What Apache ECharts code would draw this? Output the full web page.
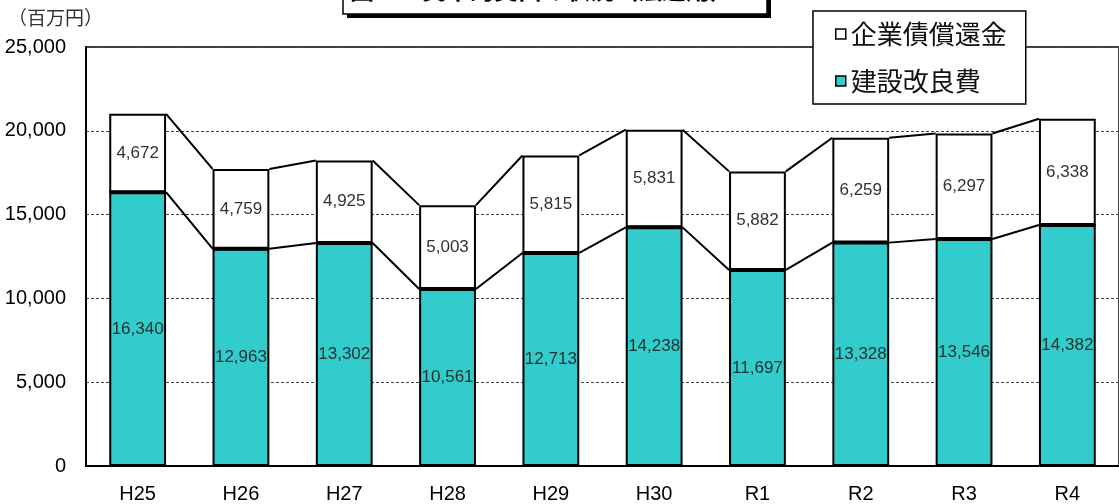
<!DOCTYPE html>
<html>
<head>
<meta charset="utf-8">
<script src="https://cdn.jsdelivr.net/npm/echarts@6/dist/echarts.min.js"></script>
<style>
  html, body { margin: 0; padding: 0; background: #fff; }
  #main { width: 1119px; height: 504px; }
</style>
</head>
<body>
<div id="main"></div>
<script>
// 年度
var years = ['H25', 'H26', 'H27', 'H28', 'H29', 'H30', 'R1', 'R2', 'R3', 'R4'];
// 建設改良費（百万円）
var kensetsu = [16340, 12963, 13302, 10561, 12713, 14238, 11697, 13328, 13546, 14382];
// 企業債償還金（百万円）
var shokan = [4672, 4759, 4925, 5003, 5815, 5831, 5882, 6259, 6297, 6338];

var fmt = function (v) {
  return String(v).replace(/\B(?=(\d{3})+(?!\d))/g, ',');
};

// 境界線・連結線用 [i, 建設上端, 合計上端, 次の建設上端, 次の合計上端]
var links = [];
for (var i = 0; i < years.length; i++) {
  var last = i === years.length - 1;
  links.push([i, kensetsu[i], kensetsu[i] + shokan[i],
    last ? '-' : kensetsu[i + 1], last ? '-' : kensetsu[i + 1] + shokan[i + 1]]);
}

var BAR_RATIO = 0.55;
var myChart = echarts.init(document.getElementById('main'));

var option = {
  animation: false,
  textStyle: { fontFamily: 'Liberation Sans, Arial, sans-serif' },
  grid: {
    left: 86, top: 47, width: 1040, height: 423,
    show: true, borderColor: '#000', borderWidth: 1.5, backgroundColor: 'transparent'
  },
  legend: {
    orient: 'vertical',
    left: 813, top: 11,
    padding: [10, 19, 10, 22],
    itemGap: 21,
    itemWidth: 10, itemHeight: 10,
    backgroundColor: '#fff',
    borderColor: '#000', borderWidth: 1.5,
    textStyle: { fontSize: 26, color: '#111', fontFamily: 'Noto Sans CJK JP' },
    data: [
      { name: '企業債償還金', icon: 'rect', itemStyle: { color: '#fff', borderColor: '#000', borderWidth: 1.5 } },
      { name: '建設改良費', icon: 'rect', itemStyle: { color: '#33cccc', borderColor: '#000', borderWidth: 1.5 } }
    ]
  },
  graphic: [
    // タイトル枠の影
    { type: 'rect', shape: { x: 347, y: -10, width: 424, height: 28 }, style: { fill: '#000' }, z: 100 },
    { type: 'rect', shape: { x: 343, y: -14, width: 424, height: 28 }, style: { fill: '#fff', stroke: '#000', lineWidth: 1.5 }, z: 101 },
    {
      type: 'text', left: 350, top: -22, z: 102,
      style: { text: '図２　資本的支出の状況（法適用）', font: 'bold 24px "Noto Sans CJK JP"', fill: '#000' }
    },
    {
      type: 'text', left: 8, top: 8,
      style: { text: '（百万円）', font: '19px "Noto Sans CJK JP"', fill: '#333' }
    }
  ],
  xAxis: {
    type: 'category',
    data: years,
    axisLine: { lineStyle: { color: '#000', width: 2 } },
    axisTick: { inside: true, length: 6, lineStyle: { color: '#000', width: 1.5 } },
    axisLabel: { fontSize: 20, color: '#000', margin: 18 }
  },
  yAxis: {
    type: 'value',
    min: 0, max: 25000, interval: 5000,
    axisLine: { show: true, lineStyle: { color: '#000', width: 2 } },
    axisTick: { show: false },
    axisLabel: { fontSize: 20, color: '#000', margin: 20, formatter: fmt },
    splitLine: { lineStyle: { color: '#444', type: [3, 2], width: 1 } }
  },
  series: [
    {
      name: '建設改良費', type: 'bar', stack: 'total',
      barWidth: (BAR_RATIO * 100) + '%',
      data: kensetsu,
      itemStyle: { color: '#33cccc', borderColor: '#000', borderWidth: 2 },
      label: { show: true, position: 'inside', fontSize: 17, color: '#233', formatter: function (p) { return fmt(p.value); } }
    },
    {
      name: '企業債償還金', type: 'bar', stack: 'total',
      data: shokan,
      itemStyle: { color: '#fff', borderColor: '#000', borderWidth: 2 },
      label: { show: true, position: 'inside', fontSize: 17, color: '#333', formatter: function (p) { return fmt(p.value); } }
    },
    {
      name: 'links', type: 'custom',
      data: links,
      encode: { x: 0, y: 1 },
      z: 5,
      renderItem: function (params, api) {
        var i = api.value(0);
        var half = api.size([1, 0])[0] * BAR_RATIO / 2;
        var a1 = api.coord([i, api.value(1)]);
        var b1 = api.coord([i, api.value(2)]);
        var st = { stroke: '#000', lineWidth: 2 };
        var children = [
          // 建設改良費と企業債償還金の境界線
          { type: 'line', shape: { x1: a1[0] - half, y1: a1[1], x2: a1[0] + half, y2: a1[1] }, style: { stroke: '#000', lineWidth: 3 } }
        ];
        if (!isNaN(api.value(3))) {
          var a2 = api.coord([i + 1, api.value(3)]);
          var b2 = api.coord([i + 1, api.value(4)]);
          children.push(
            { type: 'line', shape: { x1: a1[0] + half, y1: a1[1], x2: a2[0] - half, y2: a2[1] }, style: st },
            { type: 'line', shape: { x1: b1[0] + half, y1: b1[1], x2: b2[0] - half, y2: b2[1] }, style: st }
          );
        }
        return { type: 'group', children: children };
      }
    }
  ]
};
myChart.setOption(option);
</script>
</body>
</html>
